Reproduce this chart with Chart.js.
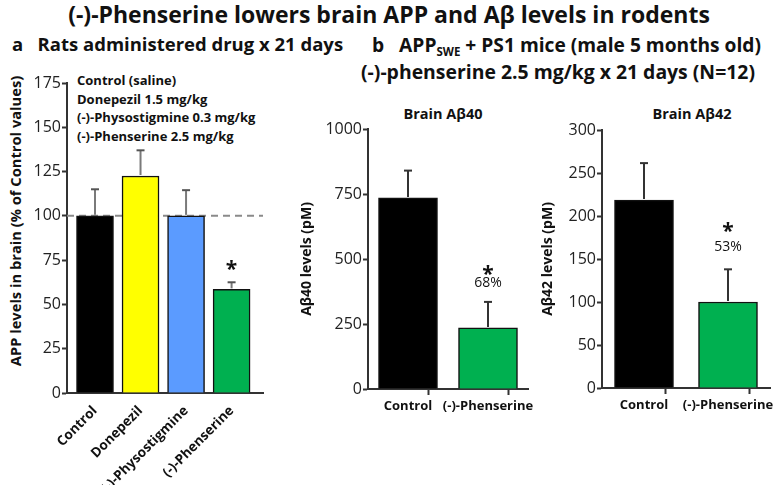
<!DOCTYPE html>
<html><head><meta charset="utf-8">
<script src="https://cdn.jsdelivr.net/npm/chart.js@4.4.1/dist/chart.umd.min.js"></script>
<style>
body{margin:0;width:778px;height:485px;background:#fff;position:relative;overflow:hidden;font-family:"Open Sans",sans-serif;color:#111}
.t{position:absolute;white-space:nowrap;font-weight:bold;line-height:1}
.box{position:absolute}
sub{font-size:60%;vertical-align:-4px}
.rot{position:absolute;white-space:nowrap;font-weight:bold;line-height:1;transform:translate(-50%,-50%) rotate(-90deg)}
</style></head><body>
<div class="t" style="left:0;width:778px;text-align:center;top:3px;font-size:23px">(-)-Phenserine lowers brain APP and Aβ levels in rodents</div>
<div class="t" style="left:12px;top:35px;font-size:18.5px">a&nbsp;&nbsp;&nbsp;Rats administered drug x 21 days</div>
<div class="t" style="left:372px;top:35px;font-size:19.2px">b&nbsp;&nbsp;&nbsp;APP<sub>SWE</sub> + PS1 mice (male 5 months old)</div>
<div class="t" style="left:361px;top:62px;font-size:19.4px">(-)-phenserine 2.5 mg/kg x 21 days (N=12)</div>
<div class="t" style="left:343px;width:200px;text-align:center;top:107px;font-size:14.5px">Brain Aβ40</div>
<div class="t" style="left:592px;width:200px;text-align:center;top:107px;font-size:14.5px">Brain Aβ42</div>
<div class="t" id="legendA" style="left:77px;top:71px;font-size:13px;line-height:18.5px"></div>
<div class="rot" id="yTitleA" style="left:15px;top:221px;font-size:14.7px"></div>

<div class="box" style="left:0;top:60px;width:290px;height:425px"><canvas id="cA"></canvas></div>
<div class="box" style="left:295px;top:100px;width:245px;height:385px"><canvas id="cB1"></canvas></div>
<div class="box" style="left:540px;top:100px;width:238px;height:385px"><canvas id="cB2"></canvas></div>

<script>
// ---- Panel a data ----
const aCategories = ['Control', 'Donepezil', '(-)-Physostigmine', '(-)-Phenserine'];
const aValues = [100, 122.5, 100, 58.5];
const aErrors = [15, 14.5, 14.5, 4];
const aMarks = ['', '', '', '*'];
const aLegend = ['Control (saline)', 'Donepezil 1.5 mg/kg', '(-)-Physostigmine 0.3 mg/kg', '(-)-Phenserine 2.5 mg/kg'];
const aYTicks = [0, 25, 50, 75, 100, 125, 150, 175];
const aYTitle = 'APP levels in brain (% of Control values)';
const aRefValue = 100;

// ---- Panel b data ----
const bCategories = ['Control', '(-)-Phenserine'];
const ab40Values = [735, 235];
const ab40Errors = [105, 100];
const ab40Pct = ['', '68%'];
const ab40YTicks = [0, 250, 500, 750, 1000];
const ab42Values = [218.5, 100];
const ab42Errors = [43, 38];
const ab42Pct = ['', '53%'];
const ab42YTicks = [0, 50, 100, 150, 200, 250, 300];

document.getElementById('legendA').innerHTML = aLegend.join('<br>');
document.getElementById('yTitleA').textContent = aYTitle;

const AXIS = '#333';
const FONT = '"Open Sans"';

const errPlugin = {
  id: 'errbars',
  beforeDatasetsDraw(chart, args, o) {
    if (o.refLine == null) return;
    const {ctx, chartArea: a, scales: {y}} = chart;
    const py = y.getPixelForValue(o.refLine);
    ctx.save();
    ctx.strokeStyle = '#8a8a8a'; ctx.lineWidth = 2; ctx.setLineDash([7, 5]);
    ctx.beginPath(); ctx.moveTo(a.left, py); ctx.lineTo(a.right, py); ctx.stroke();
    ctx.restore();
  },
  afterDatasetsDraw(chart, args, o) {
    const {ctx, scales: {y}} = chart;
    const meta = chart.getDatasetMeta(0);
    ctx.save();
    meta.data.forEach((bar, i) => {
      const v = o.values[i], e = o.errors[i];
      const yb = y.getPixelForValue(v), yt = y.getPixelForValue(v + e);
      ctx.strokeStyle = o.color; ctx.lineWidth = o.width;
      ctx.beginPath(); ctx.moveTo(bar.x, yb - 1); ctx.lineTo(bar.x, yt); ctx.stroke();
      ctx.strokeStyle = o.capColor; ctx.lineWidth = 2;
      ctx.beginPath(); ctx.moveTo(bar.x - o.cap, yt); ctx.lineTo(bar.x + o.cap, yt); ctx.stroke();
      ctx.fillStyle = '#111'; ctx.textAlign = 'center'; ctx.textBaseline = 'middle';
      if (o.stars && o.stars[i]) {
        ctx.font = 'bold 21px ' + FONT;
        ctx.fillText('*', bar.x, yt - o.starDy + 5);
      }
      if (o.pct && o.pct[i]) {
        ctx.font = '14px ' + FONT;
        ctx.fillText(o.pct[i], bar.x, yt - o.pctDy);
      }
    });
    ctx.restore();
  }
};

function makeChart(id, cfg) {
  return new Chart(document.getElementById(id), {
    type: 'bar',
    data: {
      datasets: [{
        data: cfg.values.map((v, i) => ({x: i, y: v})),
        backgroundColor: cfg.colors,
        borderColor: '#111',
        borderWidth: 1.5,
        borderSkipped: 'bottom',
        barThickness: cfg.barW
      }]
    },
    options: {
      responsive: true, maintainAspectRatio: false, animation: false,
      layout: {padding: cfg.pad},
      plugins: {
        legend: {display: false}, tooltip: {enabled: false},
        errbars: {values: cfg.values, errors: cfg.errors, color: cfg.errColor, capColor: cfg.capColor,
          width: 2, cap: 4, stars: cfg.stars, pct: cfg.pct, starDy: cfg.starDy, pctDy: cfg.pctDy,
          refLine: cfg.refLine}
      },
      scales: {
        x: {
          type: 'linear', min: cfg.xMin, max: cfg.xMax, offset: false,
          afterBuildTicks: s => { s.ticks = cfg.xTicks.map(v => ({value: v})); },
          afterFit: s => { s.height = cfg.xH; },
          border: {display: true, color: AXIS, width: 2},
          grid: {display: true, drawOnChartArea: false, drawTicks: true, tickLength: 6, tickWidth: 2,
            tickColor: c => (c.tick && !Number.isInteger(c.tick.value)) ? AXIS : 'rgba(0,0,0,0)'},
          ticks: {
            autoSkip: false, padding: cfg.xPad, color: '#111',
            minRotation: cfg.rot, maxRotation: cfg.rot,
            font: {family: FONT, size: cfg.xFont, weight: 'bold'},
            callback: v => Number.isInteger(v) ? (cfg.cats[v] || '') : ''
          }
        },
        y: {
          min: cfg.yTicks[0], max: cfg.yTicks[cfg.yTicks.length - 1],
          afterBuildTicks: s => { s.ticks = cfg.yTicks.map(v => ({value: v})); },
          afterFit: s => { s.width = cfg.yW; },
          border: {display: true, color: AXIS, width: 2},
          grid: {display: true, drawOnChartArea: false, drawTicks: true, tickLength: 5, tickWidth: 2, tickColor: AXIS},
          ticks: {padding: 1, color: '#222', font: {family: FONT, size: 16}, callback: v => String(v)},
          title: {display: !!cfg.yTitle, text: cfg.yTitle || '', color: '#111', padding: cfg.yTitlePad,
            font: {family: FONT, size: cfg.yTitleSize, weight: 'bold'}}
        }
      }
    },
    plugins: [errPlugin]
  });
}

makeChart('cA', {
  cats: aCategories, values: aValues, errors: aErrors,
  colors: ['#000000', '#ffff00', '#5b9bff', '#00b050'],
  barW: 37, xMin: -0.615, xMax: 3.69, xTicks: [0, 1, 2, 3], rot: 45, xFont: 13.5, xPad: 4,
  yTicks: aYTicks, yTitle: null, yTitlePad: {top: 0, bottom: 0}, yTitleSize: 15,
  pad: {left: 0, top: 23, right: 27, bottom: 0}, yW: 67, xH: 92,
  errColor: '#7a7a7a', capColor: '#555', stars: aMarks, pct: null, starDy: 17, pctDy: 0,
  refLine: aRefValue
});

makeChart('cB1', {
  cats: bCategories, values: ab40Values, errors: ab40Errors,
  colors: ['#000000', '#00b050'],
  barW: 59, xMin: -0.5, xMax: 1.5, xTicks: [-0.5, 0, 0.5, 1, 1.5], rot: 0, xFont: 13, xPad: 3,
  yTicks: ab40YTicks, yTitle: 'Aβ40 levels (pM)', yTitlePad: {top: 4, bottom: 0}, yTitleSize: 14,
  pad: {left: 0, top: 29, right: 12, bottom: 0}, yW: 73, xH: 96,
  errColor: '#333', capColor: '#333', stars: ['', '*'], pct: ab40Pct, starDy: 32, pctDy: 19,
  refLine: null
});

makeChart('cB2', {
  cats: bCategories, values: ab42Values, errors: ab42Errors,
  colors: ['#000000', '#00b050'],
  barW: 59, xMin: -0.5, xMax: 1.5, xTicks: [-0.5, 0, 0.5, 1, 1.5], rot: 0, xFont: 13, xPad: 3,
  yTicks: ab42YTicks, yTitle: 'Aβ42 levels (pM)', yTitlePad: {top: 0, bottom: 0}, yTitleSize: 14,
  pad: {left: 0, top: 30, right: 8, bottom: 0}, yW: 62, xH: 97,
  errColor: '#333', capColor: '#333', stars: ['', '*'], pct: ab42Pct, starDy: 42, pctDy: 22,
  refLine: null
});
</script>
</body></html>
